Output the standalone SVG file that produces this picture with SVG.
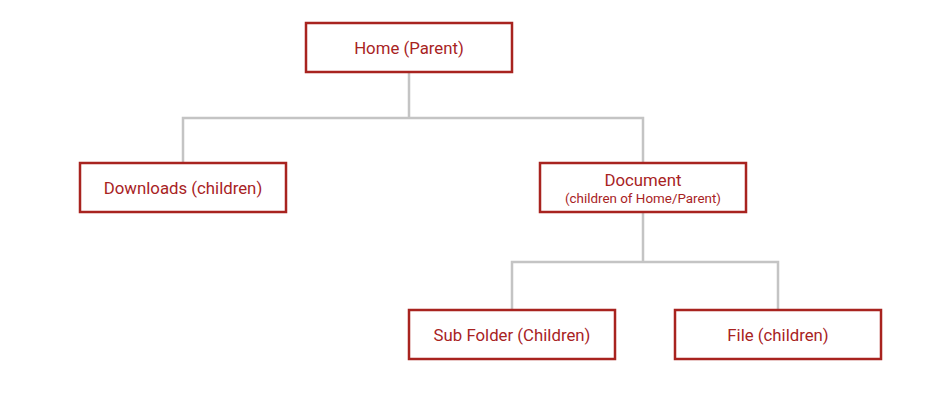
<svg xmlns="http://www.w3.org/2000/svg" width="932" height="400" viewBox="0 0 932 400">
<style>
.box{fill:#fff;stroke:#a8231f;stroke-width:2.5}
.t{font-family:Roboto,"Liberation Sans",sans-serif;font-size:16.8px;fill:#a8231f;text-anchor:middle}
.s{font-size:13.4px}
.c{fill:none;stroke:#c4c4c4;stroke-width:2.5}
</style>
<rect width="932" height="400" fill="#fff"/>
<g id="connectors">
<path class="c" d="M409 72V118M183 163V118H643V163"/>
<path class="c" d="M643 212V262M512 310V262H778V310"/>
</g>
<g id="home"><rect class="box" x="306" y="23" width="206" height="49"/><text class="t" x="409" y="53.5">Home (Parent)</text></g>
<g id="downloads"><rect class="box" x="80" y="163" width="206" height="49"/><text class="t" x="183" y="194">Downloads (children)</text></g>
<g id="document"><rect class="box" x="540" y="163" width="206" height="49"/><text class="t" x="643" y="186">Document</text><text class="t s" x="643" y="203">(children of Home/Parent)</text></g>
<g id="subfolder"><rect class="box" x="409" y="310" width="206" height="49"/><text class="t" x="512" y="341">Sub Folder (Children)</text></g>
<g id="file"><rect class="box" x="675" y="310" width="206" height="49"/><text class="t" x="778" y="341">File (children)</text></g>
</svg>
